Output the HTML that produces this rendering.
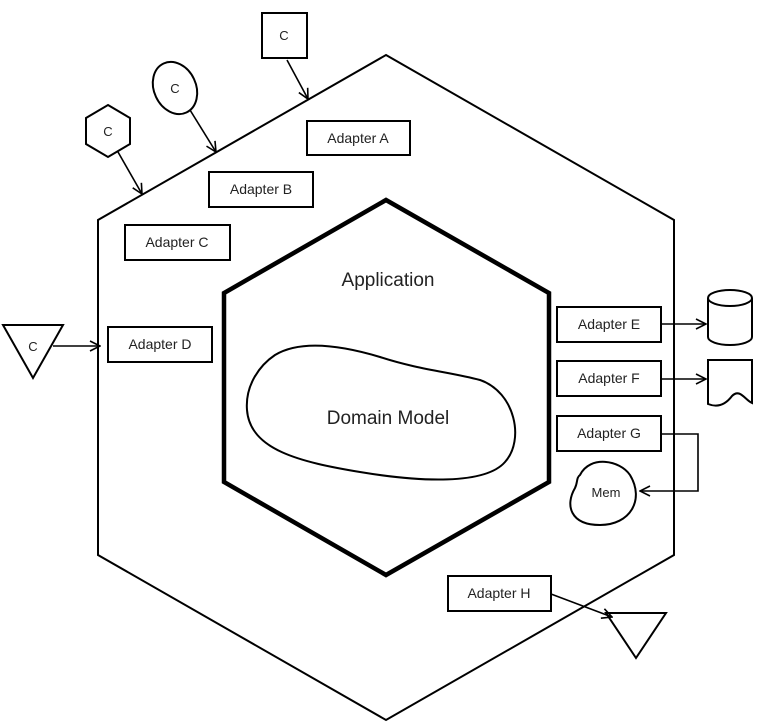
<!DOCTYPE html>
<html><head><style>
html,body{margin:0;padding:0;background:#fff;}
svg{display:block;}
text{font-family:"Liberation Sans",sans-serif;fill:#222;}
</style></head><body>
<svg width="764" height="728" viewBox="0 0 764 728">
<defs><marker id="a" markerWidth="12" markerHeight="12" refX="11" refY="6" orient="auto" markerUnits="userSpaceOnUse"><path d="M1,1 L11,6 L1,11" fill="none" stroke="#000" stroke-width="1.6"/></marker></defs>
<g fill="none" stroke="#000">
<polygon points="386,55 674,220 674,555 386,720 98,555 98,220" stroke-width="2"/>
<polygon points="386,200 549,293 549,482 386,575 224,482 224,293" stroke-width="4.5"/>
<path d="M275,355 C300,340 340,345 380,357 C420,370 450,372 480,380 C515,392 525,440 505,462 C485,485 420,482 360,472 C300,462 250,450 247,410 C245,385 260,365 275,355 Z" stroke-width="2"/>
<g stroke-width="2">
<rect x="307" y="121" width="103" height="34"/>
<rect x="209" y="172" width="104" height="35"/>
<rect x="125" y="225" width="105" height="35"/>
<rect x="108" y="327" width="104" height="35"/>
<rect x="557" y="307" width="104" height="35"/>
<rect x="557" y="361" width="104" height="35"/>
<rect x="557" y="416" width="104" height="35"/>
<rect x="448" y="576" width="103" height="35"/>
<rect x="262" y="13" width="45" height="45"/>
<ellipse cx="175" cy="88" rx="21" ry="27" transform="rotate(-25 175 88)"/>
<polygon points="108,105 130,118 130,144 108,157 86,144 86,118"/>
<polygon points="3,325 63,325 33,378"/>
<polygon points="606,613 666,613 636,658"/>
<path d="M708,298 L708,337 A22,8 0 0 0 752,337 L752,298 A22,8 0 0 0 708,298 A22,8 0 0 0 752,298"/>
<path d="M708,360 L752,360 L752,403 C745,400 740,388 732,396 C726,404 718,408 708,404 Z"/>
<path d="M580,475 C590,455 620,460 630,475 C645,500 630,525 600,525 C570,525 565,505 575,488 C578,482 576,478 580,475 Z"/>
</g>
<g stroke-width="1.6" marker-end="url(#a)">
<line x1="287" y1="60" x2="308" y2="99"/>
<line x1="190" y1="110" x2="216" y2="152"/>
<line x1="118" y1="152" x2="142" y2="194"/>
<line x1="53" y1="346" x2="100" y2="346"/>
<line x1="661" y1="324" x2="706" y2="324"/>
<line x1="661" y1="379" x2="706" y2="379"/>
<polyline points="661,434 698,434 698,491 640,491"/>
<line x1="551" y1="594" x2="612" y2="617"/>
</g>
</g>
<g font-size="14" text-anchor="middle">
<text x="358" y="143">Adapter A</text>
<text x="261" y="194">Adapter B</text>
<text x="177" y="247">Adapter C</text>
<text x="160" y="349">Adapter D</text>
<text x="609" y="329">Adapter E</text>
<text x="609" y="383">Adapter F</text>
<text x="609" y="438">Adapter G</text>
<text x="499" y="598">Adapter H</text>
<text x="606" y="497" font-size="13">Mem</text>
<text x="284" y="40" font-size="13">C</text>
<text x="175" y="93" font-size="13">C</text>
<text x="108" y="136" font-size="13">C</text>
<text x="33" y="351" font-size="13">C</text>
<text x="388" y="286" font-size="19">Application</text>
<text x="388" y="424" font-size="19">Domain Model</text>
</g>
</svg>
</body></html>
